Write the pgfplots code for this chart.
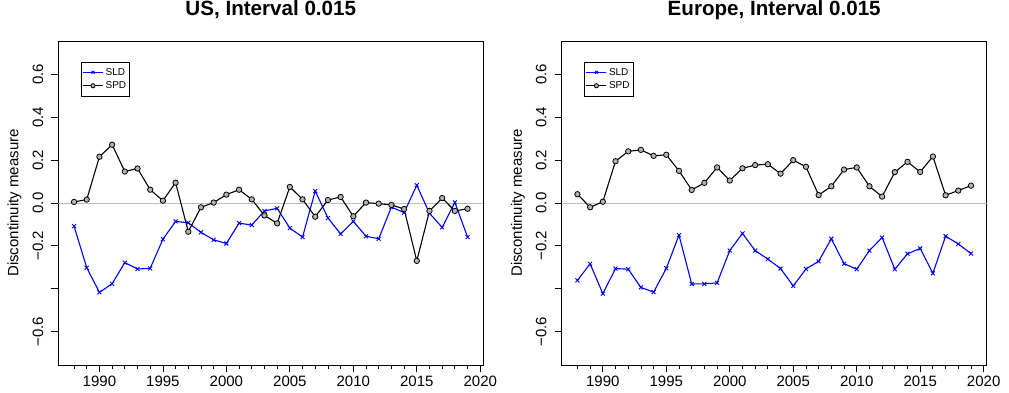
\documentclass[border=0pt]{standalone}
\usepackage{pgfplots}
\pgfplotsset{compat=1.18}
\usepackage{fontspec}
\setmainfont{Liberation Sans}
\definecolor{rgray}{RGB}{190,190,190}

\pgfplotstableread{
year sld spd
1988 -0.108 0.005
1989 -0.302 0.016
1990 -0.417 0.216
1991 -0.377 0.272
1992 -0.278 0.147
1993 -0.308 0.161
1994 -0.305 0.062
1995 -0.169 0.011
1996 -0.086 0.095
1997 -0.092 -0.134
1998 -0.137 -0.020
1999 -0.172 0.002
2000 -0.189 0.039
2001 -0.094 0.062
2002 -0.103 0.017
2003 -0.037 -0.058
2004 -0.025 -0.095
2005 -0.117 0.075
2006 -0.159 0.017
2007 0.056 -0.064
2008 -0.070 0.014
2009 -0.144 0.028
2010 -0.086 -0.062
2011 -0.155 0.002
2012 -0.167 -0.003
2013 -0.019 -0.009
2014 -0.045 -0.028
2015 0.083 -0.270
2016 -0.048 -0.037
2017 -0.114 0.023
2018 0.003 -0.037
2019 -0.159 -0.027
}\us

\pgfplotstableread{
year sld spd
1988 -0.361 0.041
1989 -0.284 -0.020
1990 -0.423 0.006
1991 -0.306 0.195
1992 -0.309 0.241
1993 -0.394 0.248
1994 -0.416 0.220
1995 -0.305 0.225
1996 -0.150 0.150
1997 -0.378 0.061
1998 -0.377 0.094
1999 -0.373 0.166
2000 -0.222 0.105
2001 -0.142 0.162
2002 -0.222 0.177
2003 -0.262 0.181
2004 -0.306 0.137
2005 -0.387 0.200
2006 -0.308 0.169
2007 -0.272 0.037
2008 -0.167 0.078
2009 -0.283 0.156
2010 -0.309 0.166
2011 -0.222 0.078
2012 -0.161 0.030
2013 -0.309 0.144
2014 -0.237 0.192
2015 -0.212 0.145
2016 -0.328 0.217
2017 -0.155 0.036
2018 -0.191 0.058
2019 -0.236 0.081
}\eu

\pgfplotsset{
  myaxis/.style={
    scale only axis, width=425pt, height=324pt,
    xmin=1986.76, xmax=2020.24, ymin=-0.756, ymax=0.756,
    tick pos=left, tick align=outside,
    xtick={1990,1995,2000,2005,2010,2015,2020},
    xticklabels={1990,1995,2000,2005,2010,2015,2020},
    minor xtick={1988,1989,1991,1992,1993,1994,1996,1997,1998,1999,2001,2002,2003,2004,2006,2007,2008,2009,2011,2012,2013,2014,2016,2017,2018,2019},
    ytick={-0.6,-0.4,-0.2,0,0.2,0.4,0.6},
    yticklabels={−0.6,,−0.2,0.0,0.2,0.4,0.6},
    major tick length=7pt, minor tick length=4pt,
    every tick/.style={black, line width=0.8pt},
    axis line style={line width=0.8pt},
    ticklabel style={font=\fontsize{15}{18}\selectfont},
    xticklabel style={anchor=base, inner sep=0pt, yshift=-14.3pt},
    yticklabel style={rotate=90, anchor=base, inner sep=0pt, yshift=8.3pt},
    ylabel style={at={(axis description cs:-0.0939,0.5)}, anchor=base, font=\fontsize{15}{18}\selectfont},
    title style={at={(0.5,1)}, anchor=base, yshift=19.3pt, font=\fontsize{20.6}{24}\selectfont\bfseries},
    legend style={at={(0.0527,0.936)}, anchor=north west, font=\fontsize{10}{12}\selectfont,
      draw=black, line width=0.6pt, inner xsep=1.5pt, inner ysep=4pt, row sep=1pt,
      nodes={inner sep=2pt}, cells={anchor=west}},
    legend image code/.code={\draw[mark repeat=2,mark phase=2,#1,mark size=2.1pt] plot coordinates {(0pt,0pt)(10pt,0pt)(20pt,0pt)};},
    sldstyle/.style={blue, line width=1.1pt, mark=x, mark size=2.8pt, mark options={solid, line width=0.9pt}},
    spdstyle/.style={black, line width=1.1pt, mark=*, mark size=2.7pt, mark options={solid, fill=gray!60, draw=black, line width=0.8pt}},
  }
}

\begin{document}
\begin{tikzpicture}
\path[use as bounding box] (0,0) rectangle (1009pt,393pt);
\begin{axis}[myaxis, at={(58.3pt,28pt)}, anchor=south west,
  title={US, Interval 0.015}, ylabel={Discontinuity measure}]
\addplot[rgray, line width=0.8pt, forget plot] coordinates {(1986.76,0) (2020.24,0)};
\addplot[sldstyle] table[x=year, y=sld] {\us};
\addplot[spdstyle] table[x=year, y=spd] {\us};
\legend{SLD,SPD}
\end{axis}
\begin{axis}[myaxis, at={(561.7pt,28pt)}, anchor=south west,
  title={Europe, Interval 0.015}, ylabel={Discontinuity measure}]
\addplot[rgray, line width=0.8pt, forget plot] coordinates {(1986.76,0) (2020.24,0)};
\addplot[sldstyle] table[x=year, y=sld] {\eu};
\addplot[spdstyle] table[x=year, y=spd] {\eu};
\legend{SLD,SPD}
\end{axis}
\end{tikzpicture}
\end{document}
